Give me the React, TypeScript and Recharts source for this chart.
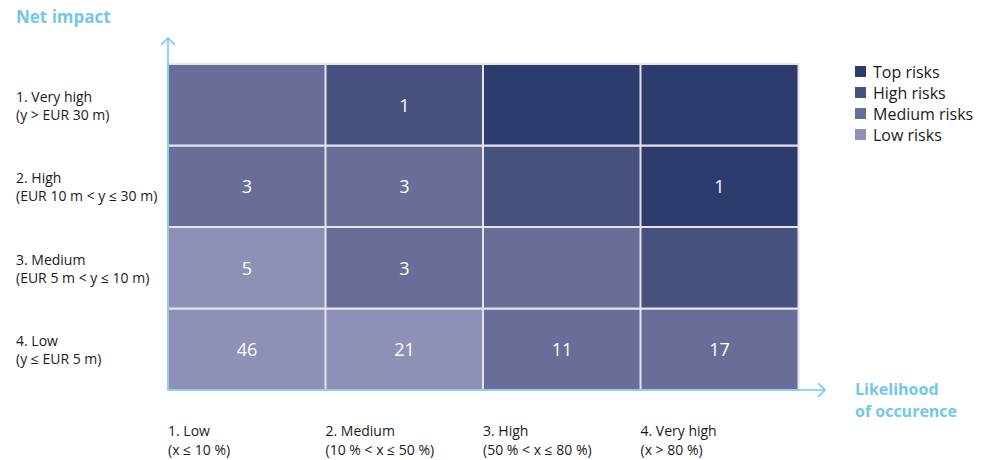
import React from "react";
import { BarChart, Bar, XAxis, YAxis, Cell, LabelList } from "recharts";

const xLabels = [
  ["1. Low", "(x ≤ 10 %)"],
  ["2. Medium", "(10 % < x ≤ 50 %)"],
  ["3. High", "(50 % < x ≤ 80 %)"],
  ["4. Very high", "(x > 80 %)"],
];

// bottom row first
const yLabels = [
  ["4. Low", "(y ≤ EUR 5 m)"],
  ["3. Medium", "(EUR 5 m < y ≤ 10 m)"],
  ["2. High", "(EUR 10 m < y ≤ 30 m)"],
  ["1. Very high", "(y > EUR 30 m)"],
];

const rowKeys = ["low", "medium", "high", "veryHigh"];

// risk level per cell, by impact row, columns = likelihood
const lowLevels = ["Low", "Low", "Medium", "Medium"];
const mediumLevels = ["Low", "Medium", "Medium", "High"];
const highLevels = ["Medium", "Medium", "High", "Top"];
const veryHighLevels = ["Medium", "High", "Top", "Top"];

// number of risks per cell
const lowCounts = [46, 21, 11, 17];
const mediumCounts = [5, 3, null, null];
const highCounts = [3, 3, null, 1];
const veryHighCounts = [null, 1, null, null];

const legendItems = ["Top risks", "High risks", "Medium risks", "Low risks"];

const levelColors: Record<string, string> = {
  Top: "#2e3b6d",
  High: "#47527f",
  Medium: "#6a6d98",
  Low: "#8f90b5",
};
const legendColors = [levelColors.Top, levelColors.High, levelColors.Medium, levelColors.Low];

const levels = [lowLevels, mediumLevels, highLevels, veryHighLevels];
const counts = [lowCounts, mediumCounts, highCounts, veryHighCounts];

const data = xLabels.map((l, i) => {
  const row: any = { col: l[0] };
  rowKeys.forEach((k, r) => {
    row[k] = 1;
    row[k + "Count"] = counts[r][i];
  });
  return row;
});

const FONT = "'Open Sans', sans-serif";
const BLUE = "#72c7ea";
const W = 983;
const H = 460;
const margin = { top: 64, right: 185, bottom: 40, left: 8 };

const XTick = (props: any) => {
  const { x, y, payload, index } = props;
  const lines = xLabels[index] || [payload.value, ""];
  const left = x - 630 / 8;
  return (
    <text x={left} y={y} fontFamily={FONT} fontSize={14} fill="#1a1a1a">
      <tspan x={left} dy={38}>{lines[0]}</tspan>
      <tspan x={left} dy={19}>{lines[1]}</tspan>
    </text>
  );
};

const YTick = (props: any) => {
  const { y, payload } = props;
  const lines = yLabels[Math.floor(payload.value)];
  return (
    <text x={16} y={y} fontFamily={FONT} fontSize={14} fill="#1a1a1a">
      <tspan x={16} dy={-3}>{lines[0]}</tspan>
      <tspan x={16} dy={18}>{lines[1]}</tspan>
    </text>
  );
};

const CountLabel = (props: any) => {
  const { x, y, width, height, value } = props;
  if (value === null || value === undefined) return null;
  return (
    <text
      x={x + width / 2}
      y={y + height / 2}
      textAnchor="middle"
      dominantBaseline="central"
      fill="#ffffff"
      fontFamily={FONT}
      fontSize={18}
    >
      {value}
    </text>
  );
};

export default function App() {
  return (
    <div style={{ position: "relative", width: W, height: H, margin: "-8px 0 0 -8px" }}>
      <BarChart width={W} height={H} data={data} margin={margin} barCategoryGap={0}>
        <XAxis dataKey="col" axisLine={false} tickLine={false} tick={<XTick />} interval={0} />
        <YAxis
          type="number"
          domain={[0, 4]}
          ticks={[0.5, 1.5, 2.5, 3.5]}
          width={160}
          axisLine={false}
          tickLine={false}
          tick={<YTick />}
        />
        {rowKeys.map((k, r) => (
          <Bar key={k} dataKey={k} stackId="grid" isAnimationActive={false} stroke="#e4e4ee" strokeWidth={2}>
            {data.map((d, i) => (
              <Cell key={i} fill={levelColors[levels[r][i]]} />
            ))}
            <LabelList dataKey={k + "Count"} content={<CountLabel />} />
          </Bar>
        ))}
      </BarChart>
      <div
        style={{
          position: "absolute",
          left: 855,
          top: 61,
          fontFamily: FONT,
          fontSize: 16,
          color: "#1a1a1a",
        }}
      >
        {legendItems.map((name, i) => (
          <div key={name} style={{ display: "flex", alignItems: "center", height: 21 }}>
            <span style={{ width: 11, height: 11, background: legendColors[i], marginRight: 7 }} />
            {name}
          </div>
        ))}
      </div>
      <svg
        width={W}
        height={H}
        style={{ position: "absolute", left: 0, top: 0, pointerEvents: "none" }}
      >
        <g stroke={BLUE} strokeWidth={1.5} fill="none">
          <line x1={168} y1={38} x2={168} y2={390} />
          <polyline points="161,45 168,38 175,45" />
          <line x1={168} y1={390} x2={825} y2={390} />
          <polyline points="818,383 825,390 818,397" />
        </g>
        <g fontFamily={FONT} fontWeight="bold" fontSize={16} fill={BLUE}>
          <text x={16} y={23} fontSize={17}>Net impact</text>
          <text x={855} y={395}>Likelihood</text>
          <text x={855} y={417}>of occurence</text>
        </g>
      </svg>
    </div>
  );
}
